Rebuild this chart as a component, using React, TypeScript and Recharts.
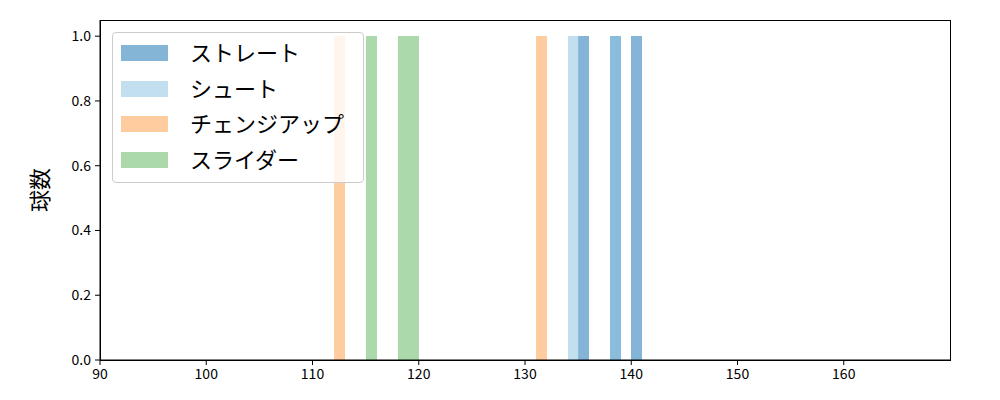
import { BarChart, Bar, XAxis, YAxis } from "recharts"

const FONT = '"Noto Sans CJK JP", "Noto Sans", sans-serif'

// pitch types and their look
const pitchKeys = ["straight", "shoot", "changeup", "slider"]
const pitchNames = ["ストレート", "シュート", "チェンジアップ", "スライダー"]
const pitchColors = ["#1f77b4", "#8fc4e2", "#ffcc9f", "#abd9ab"]
const pitchOpacity = [0.55, 0.55, 1, 1]

// 1 km/h bins (left edge) and counts per pitch type
const straightBins = [135, 138, 140]
const straightCounts = [1, 1, 1]
const shootBins = [134, 138]
const shootCounts = [1, 1]
const changeupBins = [112, 131]
const changeupCounts = [1, 1]
const sliderBins = [115, 118, 119]
const sliderCounts = [1, 1, 1]

const binFrom = 90
const binTo = 170
const xTicks = [90, 100, 110, 120, 130, 140, 150, 160]
const yTicks = [0, 0.2, 0.4, 0.6, 0.8, 1.0]

const seriesBins = [straightBins, shootBins, changeupBins, sliderBins]
const seriesCounts = [straightCounts, shootCounts, changeupCounts, sliderCounts]

const rows: Record<string, number | null>[] = []
for (let b = binFrom; b < binTo; b++) {
  const row: Record<string, number | null> = { bin: b }
  pitchKeys.forEach((k, i) => {
    const idx = seriesBins[i].indexOf(b)
    row[k] = idx >= 0 ? seriesCounts[i][idx] : null
  })
  rows.push(row)
}

function LegendBox() {
  return (
    <div
      style={{
        position: "absolute",
        left: 112,
        top: 32,
        width: 250,
        height: 149,
        border: "1px solid #cccccc",
        borderRadius: 4,
        background: "rgba(255,255,255,0.8)",
        fontFamily: FONT,
      }}
    >
      {pitchNames.map((name, i) => (
        <div
          key={name}
          style={{ position: "absolute", left: 0, top: 20 + i * 35.7 - 15, height: 30, width: 250 }}
        >
          <div
            style={{
              position: "absolute",
              left: 8,
              top: 7,
              width: 47,
              height: 16,
              background: pitchColors[i],
              opacity: pitchOpacity[i],
            }}
          />
          <span
            style={{
              position: "absolute",
              left: 77,
              top: -2,
              fontSize: 22,
              lineHeight: "30px",
              color: "#000",
              whiteSpace: "nowrap",
            }}
          >
            {name}
          </span>
        </div>
      ))}
    </div>
  )
}

export default function App() {
  return (
    <div style={{ position: "absolute", left: 0, top: 0, width: 1000, height: 400, fontFamily: FONT }}>
      <BarChart
        width={1000}
        height={400}
        data={rows}
        margin={{ top: 20, right: 50, bottom: 0, left: 0 }}
        barCategoryGap={0}
        barGap={0}
      >
        {pitchKeys.map((k) => (
          <XAxis key={k} xAxisId={k} dataKey="bin" type="category" hide height={0} />
        ))}
        <XAxis
          xAxisId="num"
          type="number"
          dataKey="bin"
          domain={[binFrom, binTo]}
          ticks={xTicks}
          allowDataOverflow
          height={40}
          tickSize={5}
          tickMargin={4}
          stroke="#000"
          tick={{ fill: "#000", fontSize: 14, fontFamily: FONT }}
        />
        <YAxis
          domain={[0, 1.05]}
          ticks={yTicks}
          allowDataOverflow
          width={100}
          tickSize={5}
          tickMargin={4}
          stroke="#000"
          tickFormatter={(v: number) => v.toFixed(1)}
          tick={{ fill: "#000", fontSize: 14, fontFamily: FONT }}
          label={{
            value: "球数",
            angle: -90,
            position: "center",
            dx: -10,
            style: { fontSize: 22, fill: "#000", fontFamily: FONT },
          }}
        />
        {pitchKeys.map((k, i) => (
          <Bar
            key={k}
            xAxisId={k}
            dataKey={k}
            name={pitchNames[i]}
            fill={pitchColors[i]}
            fillOpacity={pitchOpacity[i]}
            shapeRendering="crispEdges"
            isAnimationActive={false}
          />
        ))}
      </BarChart>
      <div
        style={{
          position: "absolute",
          left: 100,
          top: 20,
          width: 851,
          height: 341,
          boxSizing: "border-box",
          border: "1px solid #000",
          pointerEvents: "none",
        }}
      />
      <LegendBox />
    </div>
  )
}
